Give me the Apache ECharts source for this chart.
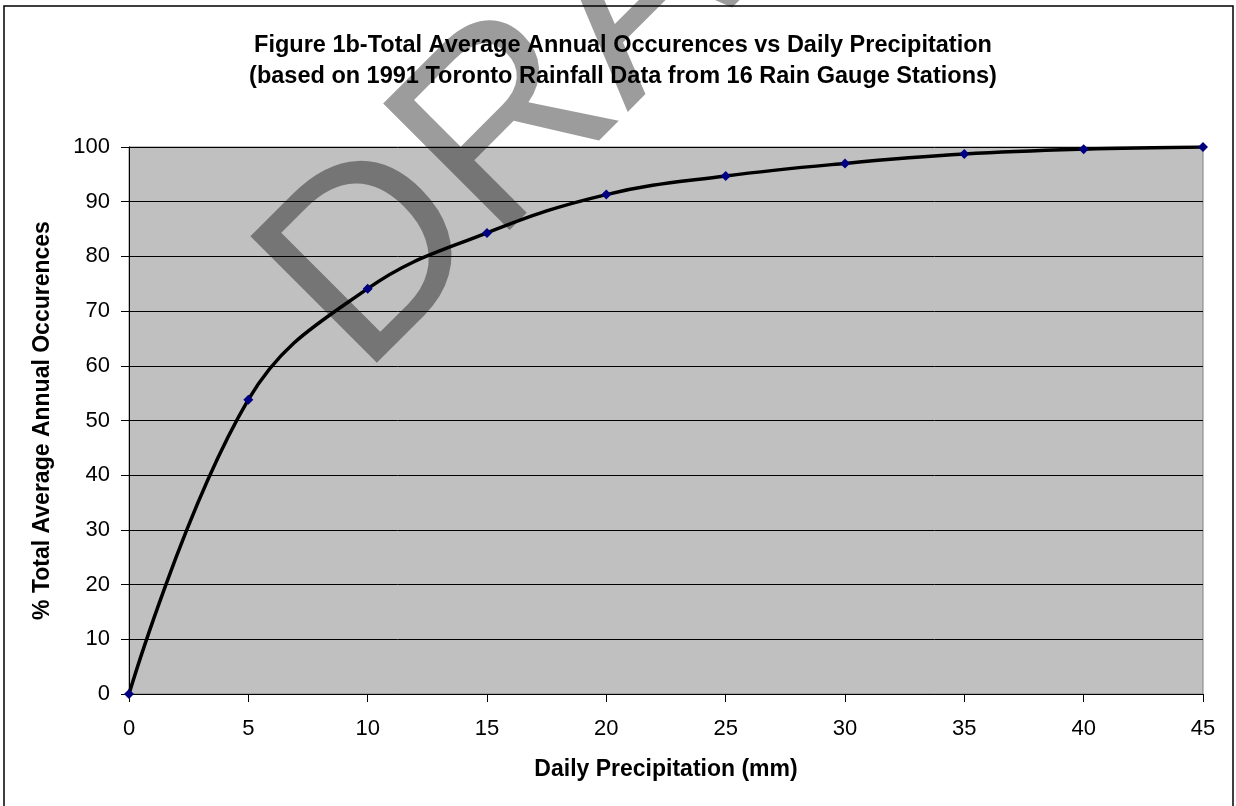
<!DOCTYPE html>
<html>
<head>
<meta charset="utf-8">
<script src="https://cdn.jsdelivr.net/npm/echarts@6/dist/echarts.min.js"></script>
<style>
  html, body { margin: 0; padding: 0; background: #fff; }
  #chart { width: 1236px; height: 806px; }
</style>
</head>
<body>
<div id="chart"></div>
<script>
// daily precipitation (mm) vs % of total average annual occurences
var precip = [0, 5, 10, 15, 20, 25, 30, 35, 40, 45]
var occurPct = [0, 53.8, 74.1, 84.3, 91.3, 94.7, 97.0, 98.7, 99.6, 100]
var titleLines = [
  'Figure 1b-Total Average Annual Occurences vs Daily Precipitation',
  '(based on 1991 Toronto Rainfall Data from 16 Rain Gauge Stations)'
]

var fontFam = 'Arial, "Liberation Sans", sans-serif'
var points = precip.map(function (p, i) { return [p, occurPct[i]] })

var mychart = echarts.init(document.getElementById('chart'))
var myoption = {
  animation: false,
  backgroundColor: '#fff',
  title: {
    text: titleLines.join('\n'),
    left: 618,
    top: 25,
    textAlign: 'center',
    textStyle: {
      fontFamily: fontFam,
      fontWeight: 'bold',
      fontSize: 23.5,
      lineHeight: 31,
      color: '#000'
    }
  },
  grid: {
    left: 129,
    right: 33,
    top: 147,
    bottom: 112,
    show: true,
    backgroundColor: '#c0c0c0',
    borderColor: '#808080',
    borderWidth: 1
  },
  xAxis: {
    type: 'value',
    min: 0,
    max: 45,
    interval: 5,
    name: 'Daily Precipitation (mm)',
    nameLocation: 'middle',
    nameGap: 64,
    nameTextStyle: {
      fontFamily: fontFam,
      fontWeight: 'bold',
      fontSize: 23,
      color: '#000'
    },
    axisLine: { show: true, onZero: false, lineStyle: { color: '#000', width: 1 } },
    axisTick: { show: true, length: 8, lineStyle: { color: '#000' } },
    splitLine: { show: false },
    axisLabel: {
      margin: 24,
      fontFamily: fontFam,
      fontSize: 22,
      color: '#000'
    }
  },
  yAxis: {
    type: 'value',
    min: 0,
    max: 100,
    interval: 10,
    name: '% Total Average Annual Occurences',
    nameLocation: 'middle',
    nameGap: 75,
    nameTextStyle: {
      fontFamily: fontFam,
      fontWeight: 'bold',
      fontSize: 23,
      color: '#000'
    },
    axisLine: { show: true, lineStyle: { color: '#000', width: 1 } },
    axisTick: { show: true, length: 8, lineStyle: { color: '#000' } },
    splitLine: { show: true, lineStyle: { color: '#000', width: 1 } },
    axisLabel: {
      margin: 19,
      fontFamily: fontFam,
      fontSize: 22,
      color: '#000'
    }
  },
  graphic: [
    {
      type: 'rect',
      z: 100,
      shape: { x: 4, y: 6, width: 1229, height: 830 },
      style: { fill: 'none', stroke: '#000', lineWidth: 1.5 }
    },
    {
      // DRAFT watermark
      type: 'text',
      z: 1,
      x: 403,
      y: 419,
      rotation: Math.PI / 4,
      style: {
        text: 'DRAFT',
        font: '260px Arial, "Liberation Sans", sans-serif',
        fill: 'rgba(0,0,0,0.39)',
        textAlign: 'left',
        textVerticalAlign: 'bottom'
      }
    }
  ],
  series: [
    {
      type: 'line',
      z: 5,
      data: points,
      smooth: 0.4,
      symbol: 'diamond',
      symbolSize: 10,
      itemStyle: { color: '#000080' },
      lineStyle: { color: '#000', width: 3.5 }
    }
  ]
}
mychart.setOption(myoption)
</script>
</body>
</html>
